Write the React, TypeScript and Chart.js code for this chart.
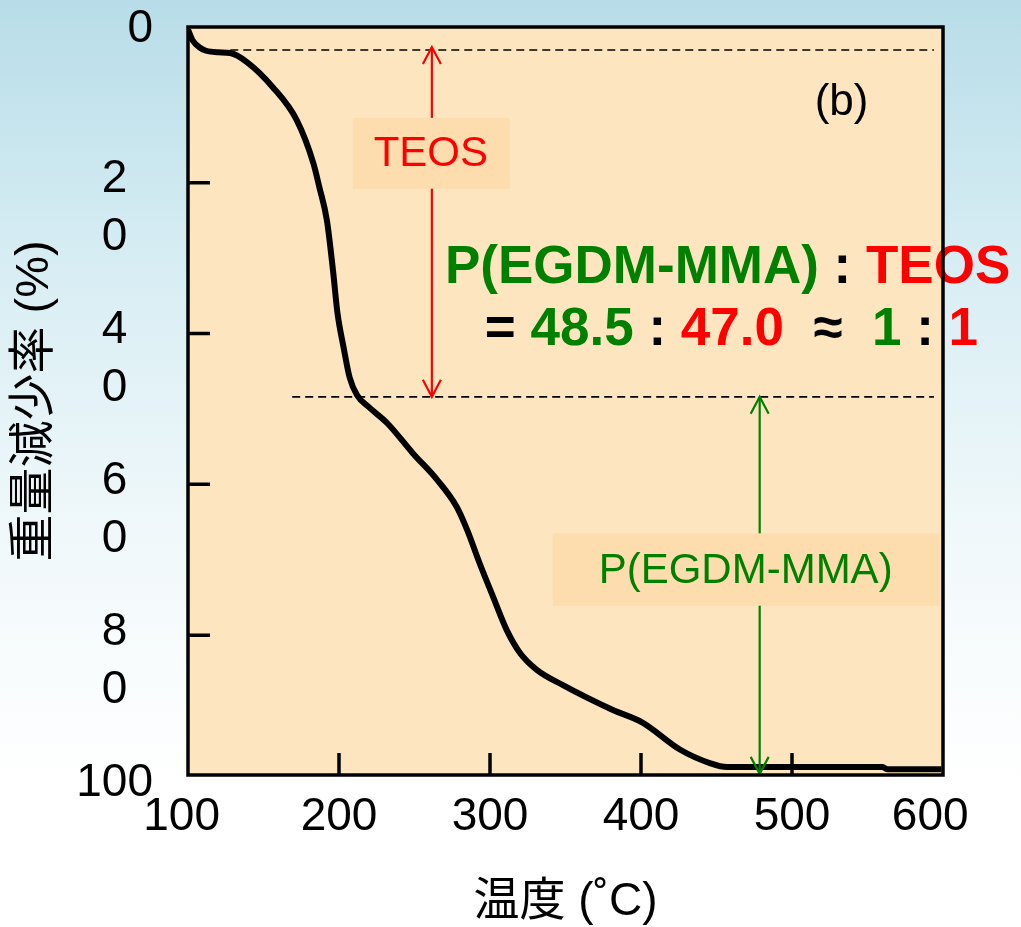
import React, { useEffect, useRef } from "react";
import { Chart, registerables } from "chart.js";

Chart.register(...registerables);

// ---- data ----
const temperatures = [100, 103, 108, 112, 120, 128, 139, 156, 172, 183, 187, 192, 196, 199, 203, 207, 212, 220, 232, 249, 265, 278, 285, 293, 302, 311, 320, 331, 348, 381, 401, 426, 446, 457, 560, 563, 599];
const weightLoss = [-0.3, 1.1, 2.1, 2.5, 2.7, 2.8, 4.0, 7.3, 11.7, 17.4, 20.6, 25.0, 31.6, 37.3, 41.8, 45.8, 48.2, 49.8, 51.9, 55.9, 59.4, 63.0, 66.1, 70.4, 74.9, 79.3, 82.4, 84.6, 86.6, 89.9, 91.6, 95.2, 97.0, 97.5, 97.5, 97.8, 97.8];

const xTickValues = [100, 200, 300, 400, 500, 600];
const xTickLabels = ["100 ", "200", "300", "400", "500", "600  "];
const yTickValues = [0, 20, 40, 60, 80, 100];
const yTickLabels = [["0", ""], ["2  ", "0  "], ["4  ", "0  "], ["6  ", "0  "], ["8  ", "0  "], ["100", ""]];
const innerTickX = [200, 300, 400, 500];
const innerTickY = [20, 40, 60, 80];

const xTitle = "温度 (˚C)";
const yTitle = "重量減少率 (%)";

// levels of the two dashed reference lines (%)
const levelStart = 2.4;
const levelMid = 48.4;
const levelEnd = 98.4;

const ratioLine1 = [
  { text: "P(EGDM-MMA)", color: "#008000" },
  { text: " : ", color: "#000000" },
  { text: "TEOS", color: "#ff0000" },
];
const ratioLine2 = [
  { text: "= ", color: "#000000" },
  { text: "48.5", color: "#008000" },
  { text: " : ", color: "#000000" },
  { text: "47.0", color: "#ff0000" },
  { text: "  ≈  ", color: "#000000" },
  { text: "1", color: "#008000" },
  { text: " : ", color: "#000000" },
  { text: "1", color: "#ff0000" },
];

const FONT = "'Liberation Sans', Arial, 'Noto Sans CJK JP', sans-serif";

const annotationPlugin = {
  id: "tgaDecor",
  beforeDatasetsDraw(chart: any) {
    const { ctx, chartArea: a, scales } = chart;
    const xs = scales.x;
    const ys = scales.y;
    ctx.save();
    ctx.fillStyle = "#fde5c0";
    ctx.fillRect(a.left, a.top, a.right - a.left, a.bottom - a.top);
    // dashed lines
    ctx.strokeStyle = "#000";
    ctx.lineWidth = 1.6;
    ctx.setLineDash([8, 5]);
    const dash = (x0: number, x1: number, y: number) => {
      ctx.beginPath();
      ctx.moveTo(xs.getPixelForValue(x0), ys.getPixelForValue(y));
      ctx.lineTo(xs.getPixelForValue(x1), ys.getPixelForValue(y));
      ctx.stroke();
    };
    dash(128, 594, levelStart);
    dash(169, 594, levelMid);
    ctx.setLineDash([]);
    ctx.restore();
  },
  afterDatasetsDraw(chart: any) {
    const { ctx, chartArea: a, scales } = chart;
    const xs = scales.x;
    const ys = scales.y;
    ctx.save();
    // arrows
    const arrow = (x: number, y0: number, y1: number, color: string) => {
      const px = xs.getPixelForValue(x);
      const p0 = ys.getPixelForValue(y0);
      const p1 = ys.getPixelForValue(y1);
      ctx.strokeStyle = color;
      ctx.lineWidth = 2.2;
      ctx.beginPath();
      ctx.moveTo(px, p0);
      ctx.lineTo(px, p1);
      ctx.stroke();
      const hw = 9, hl = 17;
      ctx.beginPath();
      ctx.moveTo(px - hw, p0 + hl);
      ctx.lineTo(px, p0);
      ctx.lineTo(px + hw, p0 + hl);
      ctx.moveTo(px - hw, p1 - hl);
      ctx.lineTo(px, p1);
      ctx.lineTo(px + hw, p1 - hl);
      ctx.stroke();
    };
    arrow(261.5, 2.0, levelMid, "#ff0000");
    arrow(478.6, levelMid, levelEnd, "#008000");

    // boxes with labels
    const box = (x0: number, x1: number, y0: number, y1: number, label: string, color: string, cx: number, cy: number) => {
      const l = xs.getPixelForValue(x0), r = xs.getPixelForValue(x1);
      const t = ys.getPixelForValue(y0), b = ys.getPixelForValue(y1);
      ctx.fillStyle = "#fddcae";
      ctx.fillRect(l, t, r - l, b - t);
      ctx.fillStyle = color;
      ctx.font = `42px ${FONT}`;
      ctx.textAlign = "center";
      ctx.textBaseline = "middle";
      ctx.fillText(label, xs.getPixelForValue(cx), ys.getPixelForValue(cy));
    };
    box(209.2, 313.1, 11.4, 20.8, "TEOS", "#ff0000", 260.8, 16.3);
    box(341.6, 597.7, 66.5, 76.1, "P(EGDM-MMA)", "#008000", 469.3, 71.5);

    // (b)
    ctx.fillStyle = "#000";
    ctx.font = `44px ${FONT}`;
    ctx.textAlign = "center";
    ctx.textBaseline = "middle";
    ctx.fillText("(b)", xs.getPixelForValue(532.8), ys.getPixelForValue(9.4));

    // ratio text
    const drawSegments = (segs: { text: string; color: string }[], x: number, y: number) => {
      ctx.font = `bold 53px ${FONT}`;
      ctx.textAlign = "left";
      ctx.textBaseline = "middle";
      let px = xs.getPixelForValue(x);
      const py = ys.getPixelForValue(y);
      for (const s of segs) {
        ctx.fillStyle = s.color;
        ctx.fillText(s.text, px, py);
        px += ctx.measureText(s.text).width;
      }
    };
    drawSegments(ratioLine1, 270.2, 31.3);
    drawSegments(ratioLine2, 296.6, 39.6);

    // frame
    ctx.strokeStyle = "#000";
    ctx.lineWidth = 3.5;
    ctx.strokeRect(a.left, a.top, a.right - a.left, a.bottom - a.top);
    // inward ticks
    ctx.beginPath();
    for (const v of innerTickY) {
      const py = ys.getPixelForValue(v);
      ctx.moveTo(a.left, py);
      ctx.lineTo(a.left + 22, py);
    }
    for (const v of innerTickX) {
      const px = xs.getPixelForValue(v);
      ctx.moveTo(px, a.bottom);
      ctx.lineTo(px, a.bottom - 22);
    }
    ctx.stroke();
    ctx.restore();
  },
};

export default function App() {
  const canvasRef = useRef<HTMLCanvasElement | null>(null);

  useEffect(() => {
    document.body.style.margin = "0";
    const canvas = canvasRef.current;
    if (!canvas) return;
    const chart = new Chart(canvas, {
      type: "line",
      data: {
        datasets: [
          {
            data: temperatures.map((t, i) => ({ x: t, y: weightLoss[i] })),
            borderColor: "#000",
            borderWidth: 6,
            pointRadius: 0,
            cubicInterpolationMode: "monotone",
            fill: false,
          },
        ],
      },
      options: {
        animation: false,
        responsive: false,
        layout: { padding: { top: 27, right: 78, left: 0, bottom: 0 } },
        plugins: { legend: { display: false }, tooltip: { enabled: false } },
        scales: {
          x: {
            type: "linear",
            min: 100,
            max: 600,
            afterFit: (s: any) => {
              s.height = 152;
              s.paddingLeft = 0;
              s.paddingRight = 0;
            },
            afterBuildTicks: (s: any) => {
              s.ticks = xTickValues.map((v) => ({ value: v }));
            },
            grid: { display: false, drawTicks: false },
            border: { display: false },
            ticks: {
              autoSkip: false,
              maxRotation: 0,
              padding: 15,
              color: "#000",
              font: { family: FONT, size: 46, lineHeight: 1.2 },
              callback: (v: any) => {
                const i = xTickValues.indexOf(Number(v));
                return i >= 0 ? xTickLabels[i] : "";
              },
            },
            title: {
              display: true,
              text: xTitle,
              color: "#000",
              font: { family: FONT, size: 46, lineHeight: 1.0 },
              padding: { top: 0, bottom: 2 },
            },
          },
          y: {
            type: "linear",
            min: -0.65,
            max: 98.55,
            reverse: true,
            afterFit: (s: any) => {
              s.width = 188;
              s.paddingTop = 0;
              s.paddingBottom = 0;
            },
            afterBuildTicks: (s: any) => {
              s.ticks = yTickValues.map((v) => ({ value: v }));
            },
            grid: { display: false, drawTicks: false },
            border: { display: false },
            ticks: {
              autoSkip: false,
              padding: 35,
              labelOffset: 26,
              color: "#000",
              font: { family: FONT, size: 46, lineHeight: 1.26 },
              callback: (v: any) => {
                const i = yTickValues.indexOf(Number(v));
                return i >= 0 ? yTickLabels[i] : "";
              },
            },
            title: {
              display: true,
              text: yTitle,
              color: "#000",
              font: { family: FONT, size: 47, lineHeight: 1.2 },
              padding: { top: 7, bottom: 0 },
            },
          },
        },
      } as any,
      plugins: [annotationPlugin],
    });
    return () => chart.destroy();
  }, []);

  return (
    <div
      style={{
        width: 1021,
        height: 927,
        background: "linear-gradient(to bottom, #b8dde8 0%, #d9eef4 30%, #f2f9fb 60%, #ffffff 85%)",
      }}
    >
      <canvas ref={canvasRef} width={1021} height={927} style={{ display: "block" }} />
    </div>
  );
}
